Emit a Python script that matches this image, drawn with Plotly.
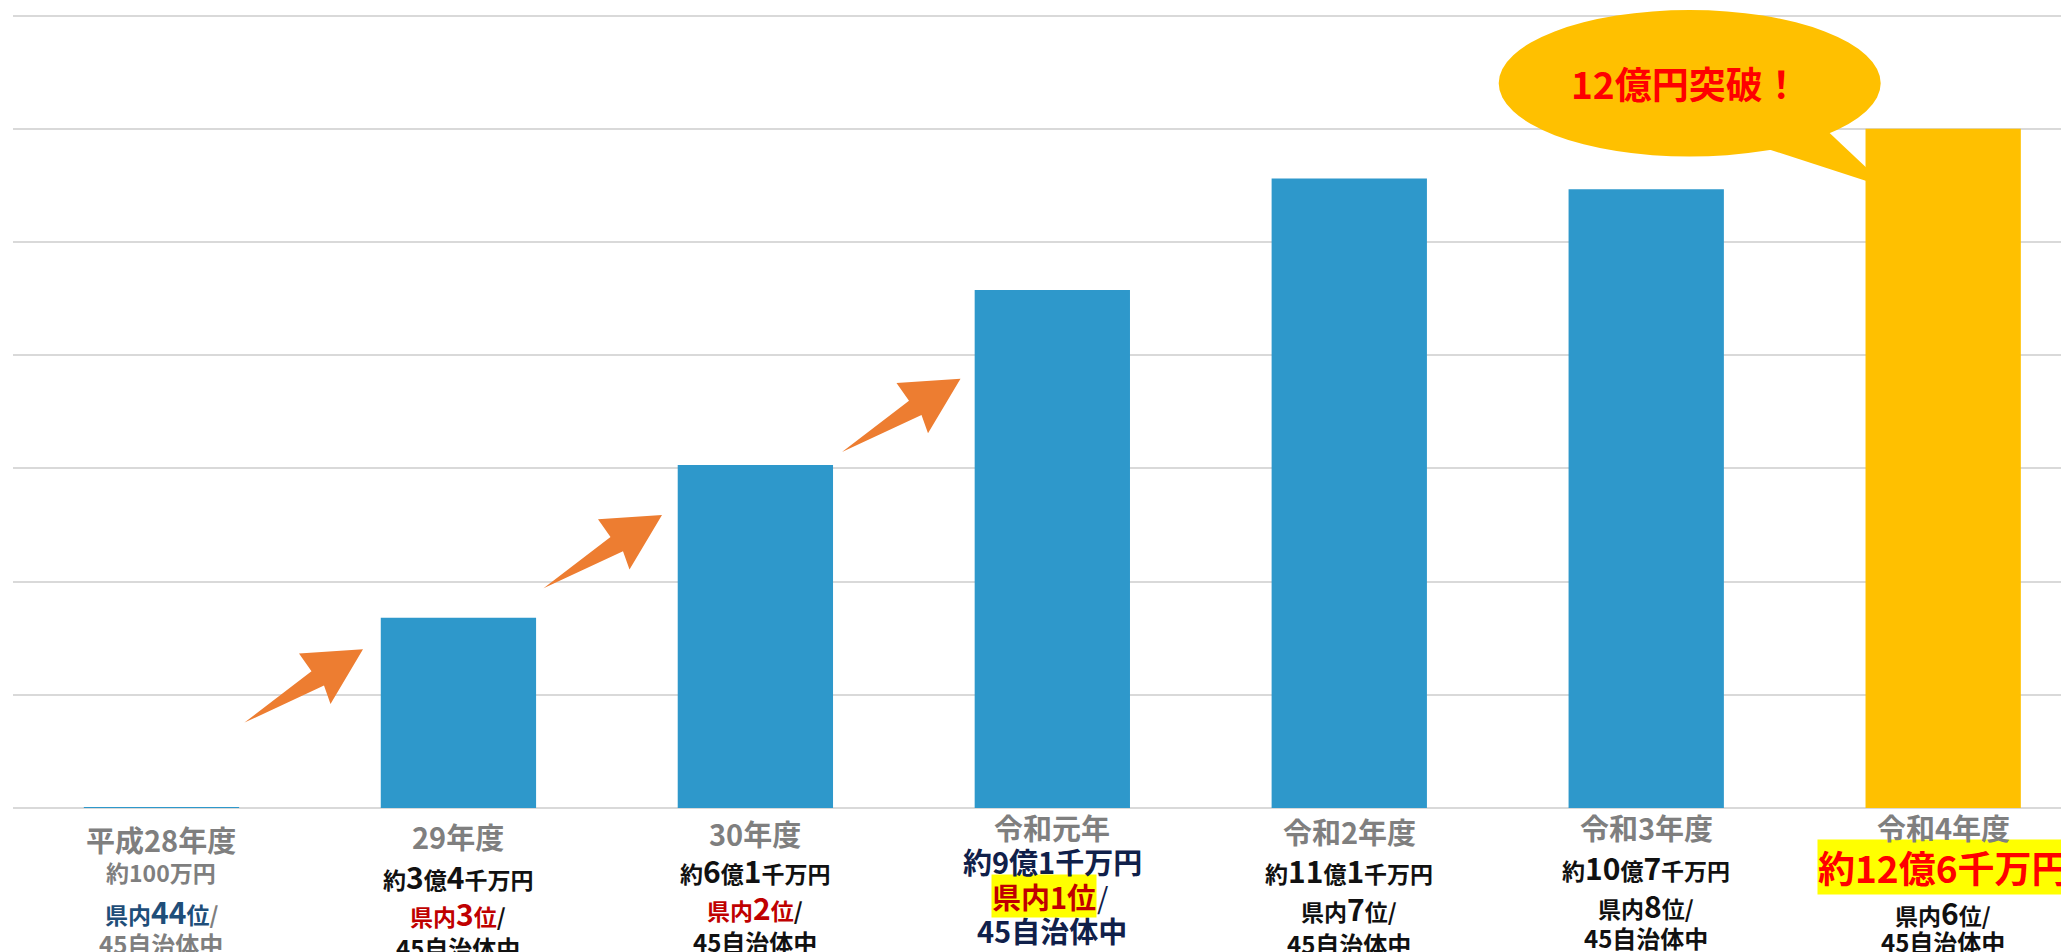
import plotly.graph_objects as go

# ---------------- data ----------------
categories = ["平成28年度", "29年度", "30年度", "令和元年", "令和2年度", "令和3年度", "令和4年度"]
bar_values = [0.01, 3.36, 6.06, 9.15, 11.12, 10.93, 12.0]   # 億円 (bar heights as drawn)
amount_oku = [None, 3, 6, 9, 11, 10, 12]                    # 億
amount_sen = [None, 4, 1, 1, 1, 7, 6]                       # 千万
amount_first = "約100万円"
ranks = [44, 3, 2, 1, 7, 8, 6]
total_munis = 45
callout_text = "12億円突破！"

# ---------------- styles / geometry ----------------
W, H = 2061, 952
ML, MR, MT, MB = 13, 0, 0, 144
CAT_PX = 296.95          # pixels per category
Y_PX = 56.6              # pixels per 億円
PLOT_W = W - ML - MR
PLOT_H = H - MT - MB
XR = [-0.5, -0.5 + PLOT_W / CAT_PX]
YR = [0, PLOT_H / Y_PX]

BLUE = "#2E98CB"
GOLD = "#FFC000"
ORANGE = "#ED7D31"
GRAY = "#7F7F7F"
BLACK = "#111111"
NAVY = "#10204A"
DKBLUE = "#1F4E79"
RED_DK = "#C00000"
RED = "#FF0000"
HILITE = "#FFFF00"
FONT = "Noto Sans CJK JP"

bar_colors = [BLUE] * 6 + [GOLD]


def dx(px):
    return (px - ML) / CAT_PX + XR[0]


def dy(py):
    return (MT + PLOT_H - py) / Y_PX


def py_paper(py):
    return (MT + PLOT_H - py) / PLOT_H


fig = go.Figure()
fig.add_trace(go.Bar(
    x=list(range(len(categories))), y=bar_values,
    width=0.523, marker=dict(color=bar_colors, line=dict(width=0)),
    hovertext=categories, hoverinfo="text+y", showlegend=False,
))

shapes = []

# orange arrows (same block-arrow outline, translated)
ARROW = [(-118.5, 73.3), (-51.5, 22.0), (-64.0, 4.2), (0.0, 0.0), (-32.5, 54.6), (-39.0, 36.2)]
arrow_tips = [(363, 649.3), (662, 515.0), (960.5, 378.7)]
for tx, ty in arrow_tips:
    pts = [(dx(tx + ox), dy(ty + oy)) for ox, oy in ARROW]
    path = "M " + " L ".join(f"{x:.5f},{y:.5f}" for x, y in pts) + " Z"
    shapes.append(dict(type="path", path=path, xref="x", yref="y",
                       fillcolor=ORANGE, line=dict(width=0), layer="above"))

# speech balloon
shapes.append(dict(type="circle", xref="x", yref="y",
                   x0=dx(1498.7), x1=dx(1880.7), y0=dy(156.6), y1=dy(10),
                   fillcolor=GOLD, line=dict(width=0), layer="above"))
tail = [(1815, 119.3), (1888, 188), (1741.5, 140.4)]
shapes.append(dict(type="path", xref="x", yref="y",
                   path="M " + " L ".join(f"{dx(a):.5f},{dy(b):.5f}" for a, b in tail) + " Z",
                   fillcolor=GOLD, line=dict(width=0), layer="above"))

annotations = []


def ann(x, py, text, size, color, bg=None, xanchor="center", weight="bold"):
    a = dict(x=x, y=py_paper(py), xref="x", yref="paper", text=text, showarrow=False,
             xanchor=xanchor, yanchor="middle",
             font=dict(family=FONT, size=size, color=color, weight=weight),
             borderpad=0)
    if bg:
        a["bgcolor"] = bg
    annotations.append(a)


annotations.append(dict(x=dx(1685), y=dy(82.5), xref="x", yref="y", text=callout_text,
                        showarrow=False, xanchor="center", yanchor="middle",
                        font=dict(family=FONT, size=37, color=RED, weight="bold")))


def sp(t, size=None, color=None):
    st = []
    if size:
        st.append(f"font-size:{size}px")
    if color:
        st.append(f"color:{color}")
    return f"<span style='{';'.join(st)}'>{t}</span>"


row_y = [
    (839, 871.7, 911, 944),
    (835.5, 876, 913, 947),
    (832.5, 870, 907, 942),
    (827, 861, 896, 930),
    (831, 870, 908, 943),
    (827, 866.5, 905, 937),
    (827, 867, 912, 942),
]

SM, BIG = 23, 30
for k, cat in enumerate(categories):
    y1, y2, y3, y4 = row_y[k]
    # municipalities
    if k == 0:
        ann(k, y4, f"{total_munis}自治体中", 24, GRAY)
    elif k == 3:
        ann(k, y4, f"{total_munis}自治体中", 29, NAVY)
    else:
        ann(k, y4, f"{total_munis}自治体中", 24, BLACK)
    # rank
    if k == 0:
        txt = sp("県内" + sp(ranks[k], BIG) + "位", None, DKBLUE) + sp("/", None, GRAY)
        ann(k, y3, txt, SM, DKBLUE)
    elif k in (1, 2):
        txt = sp("県内" + sp(ranks[k], BIG) + "位", None, RED_DK) + sp("/", None, BLACK)
        ann(k, y3, txt, SM, RED_DK)
    elif k == 3:
        ann(dx(1044), y3, f"県内{ranks[k]}位", 29, RED_DK, bg=HILITE)
        ann(dx(1096), y3, "/", 29, NAVY, xanchor="left", weight="normal")
    else:
        txt = "県内" + sp(ranks[k], BIG) + "位/"
        ann(k, y3, txt, SM, BLACK)
    # amount
    if k == 0:
        ann(k, y2, amount_first, 23, GRAY)
    elif k == 3:
        ann(k, y2, f"約{amount_oku[k]}億{amount_sen[k]}千万円", 29, NAVY)
    elif k == 6:
        ann(k, y2, f"約{amount_oku[k]}億{amount_sen[k]}千万円", 37, RED, bg=HILITE)
    else:
        txt = "約" + sp(amount_oku[k], BIG) + "億" + sp(amount_sen[k], BIG) + "千万円"
        ann(k, y2, txt, SM, BLACK)
    # year (drawn last so it stays on top)
    ann(k, y1, cat, 29, GRAY)

fig.update_layout(
    width=W, height=H,
    margin=dict(l=ML, r=MR, t=MT, b=MB, pad=0),
    paper_bgcolor="white", plot_bgcolor="white",
    bargap=0.477,
    xaxis=dict(range=XR, showticklabels=False, showgrid=False, zeroline=False,
               showline=False, ticks="", fixedrange=True),
    yaxis=dict(range=YR, tick0=0, dtick=2, showticklabels=False, ticks="",
               showgrid=True, gridcolor="#D9D9D9", gridwidth=2,
               zeroline=True, zerolinecolor="#D9D9D9", zerolinewidth=2,
               showline=False, fixedrange=True),
    shapes=shapes,
    annotations=annotations,
    font=dict(family=FONT),
    showlegend=False,
)

fig.write_html("out.html", config={"displayModeBar": False})
